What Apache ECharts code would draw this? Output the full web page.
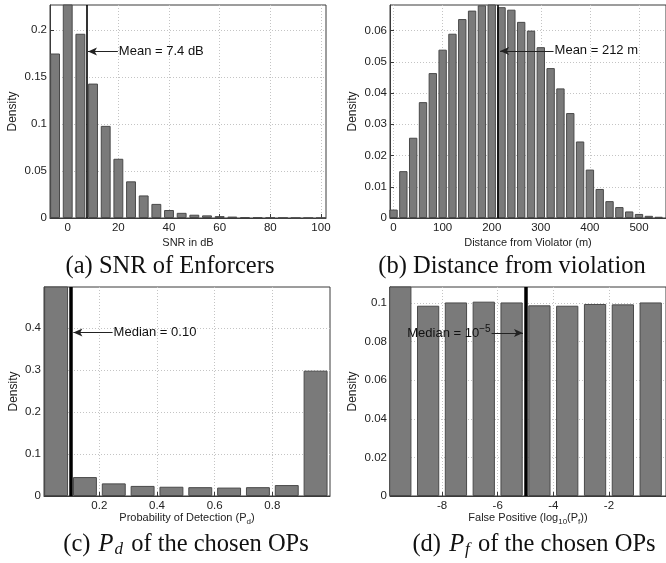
<!DOCTYPE html>
<html>
<head>
<meta charset="utf-8">
<script src="https://cdn.jsdelivr.net/npm/echarts@6/dist/echarts.min.js"></script>
<style>
  html, body { margin: 0; padding: 0; background: #fff; }
  #chart { width: 666px; height: 563px; }
</style>
</head>
<body>
<div id="chart"></div>
<script>
// (a) SNR of enforcers
var snrCenters = [-5, 0, 5, 10, 15, 20, 25, 30, 35, 40, 45, 50, 55, 60, 65, 70, 75, 80, 85, 90, 95, 100];
var snrDensity = [0.175, 0.24, 0.196, 0.143, 0.098, 0.063, 0.039, 0.024, 0.015, 0.0085, 0.0055, 0.0035,
                  0.0028, 0.002, 0.0015, 0.001, 0.0007, 0.0005, 0.0003, 0.0002, 0.0001, 0.0001];
var snrTicks = [0, 20, 40, 60, 80, 100];
var snrYTicks = [0, 0.05, 0.1, 0.15, 0.2];
var snrMean = 7.4;

// (b) distance from violation
var distCenters = [0, 20, 40, 60, 80, 100, 120, 140, 160, 180, 200, 220, 240, 260, 280, 300, 320, 340,
                   360, 380, 400, 420, 440, 460, 480, 500, 520, 540];
var distDensity = [0.0027, 0.0150, 0.0257, 0.0371, 0.0464, 0.0539, 0.0590, 0.0637, 0.0664, 0.0681, 0.0690,
                   0.0675, 0.0667, 0.0628, 0.0600, 0.0547, 0.0480, 0.0415, 0.0336, 0.0245, 0.0155, 0.0093,
                   0.0054, 0.0035, 0.0021, 0.0013, 0.0007, 0.0004];
var distTicks = [0, 100, 200, 300, 400, 500];
var distYTicks = [0, 0.01, 0.02, 0.03, 0.04, 0.05, 0.06];
var distMean = 212;

// (c) Pd of the chosen OPs
var pdCenters = [0.05, 0.15, 0.25, 0.35, 0.45, 0.55, 0.65, 0.75, 0.85, 0.95];
var pdDensity = [0.52, 0.045, 0.03, 0.024, 0.022, 0.021, 0.02, 0.021, 0.026, 0.298];
var pdTicks = [0.2, 0.4, 0.6, 0.8];
var pdYTicks = [0, 0.1, 0.2, 0.3, 0.4];
var pdMedian = 0.10;

// (d) Pf of the chosen OPs
var pfCenters = [-9.5, -8.5, -7.5, -6.5, -5.5, -4.5, -3.5, -2.5, -1.5, -0.5];
var pfDensity = [0.115, 0.0986, 0.1003, 0.1007, 0.1003, 0.0988, 0.0986, 0.0995, 0.0993, 0.1003];
var pfTicks = [-8, -6, -4, -2];
var pfYTicks = [0, 0.02, 0.04, 0.06, 0.08, 0.1];
var pfMedian = -5;

function pairs(xs, ys) {
    return xs.map(function (x, i) { return [x, ys[i]]; });
}

var frame = '#3a3a3a';
var sans = 'Liberation Sans, Arial, sans-serif';

function xAx(idx, min, max, ticks, name, gap) {
    return {
        type: 'value', gridIndex: idx, min: min, max: max,
        name: name, nameLocation: 'middle', nameGap: gap,
        nameTextStyle: {
            fontFamily: sans, fontSize: 11, color: '#222',
            rich: {
                n: {fontFamily: sans, fontSize: 11, color: '#222'},
                s: {fontFamily: sans, fontSize: 8, color: '#222', verticalAlign: 'bottom', padding: [6, 0, 0, 0]}
            }
        },
        axisLine: {show: true, onZero: false, lineStyle: {color: frame, width: 1}},
        axisTick: {show: true, inside: true, length: 4, customValues: ticks, lineStyle: {color: frame}},
        axisLabel: {customValues: ticks, fontFamily: sans, fontSize: 11.5, color: '#222', margin: 4},
        splitLine: {show: true, lineStyle: {color: '#c4c4c4', type: [1, 2], width: 1}}
    };
}

function yAx(idx, max, ticks, gap) {
    return {
        type: 'value', gridIndex: idx, min: 0, max: max,
        name: 'Density', nameLocation: 'middle', nameGap: gap, nameRotate: 90,
        nameTextStyle: {fontFamily: sans, fontSize: 12, color: '#222'},
        axisLine: {show: true, onZero: false, lineStyle: {color: frame, width: 1}},
        axisTick: {show: true, inside: true, length: 4, customValues: ticks, lineStyle: {color: frame}},
        axisLabel: {customValues: ticks, fontFamily: sans, fontSize: 11.5, color: '#222', margin: 3},
        splitLine: {show: true, lineStyle: {color: '#c4c4c4', type: [1, 2], width: 1}}
    };
}

var barStyle = {color: '#7a7a7a', borderColor: '#4a4a4a', borderWidth: 1};
var labelBase = {fontFamily: sans, fontSize: 13, color: '#111'};

function barSeries(idx, xs, ys, width, marks) {
    return {
        type: 'bar', xAxisIndex: idx, yAxisIndex: idx,
        data: pairs(xs, ys), barWidth: width, itemStyle: barStyle,
        silent: true, animation: false,
        markLine: {
            silent: true, animation: false, symbol: 'none',
            data: marks
        }
    };
}

function vline(x, w) {
    return {xAxis: x, lineStyle: {color: '#000', width: w, type: 'solid'}, label: {show: false}, symbol: 'none'};
}

function arrow(from, to, labelPos, text) {
    return [
        {coord: from, symbol: 'none', lineStyle: {color: '#222', width: 1, type: 'solid'},
         label: {show: true, position: labelPos, formatter: text, distance: 1,
                 fontFamily: sans, fontSize: 13, color: '#111',
                 rich: {
                     n: labelBase,
                     sup: {fontFamily: sans, fontSize: 10, color: '#111', verticalAlign: 'top', padding: [0, 0, 8, 0]}
                 }}},
        {coord: to, symbol: 'arrow', symbolSize: [6, 9]}
    ];
}

var serif = '"Liberation Serif", "Times New Roman", serif';
function capRich() {
    return {
        n: {fontFamily: 'Liberation Serif', fontSize: 24.5, fill: '#111'},
        i: {fontFamily: 'Liberation Serif', fontSize: 24.5, fontStyle: 'italic', fill: '#111', padding: [0, 0, 0, 2]},
        s: {fontFamily: 'Liberation Serif', fontSize: 17, fontStyle: 'italic', fill: '#111', padding: [10, 2, 0, 1]}
    };
}

var chart = echarts.init(document.getElementById('chart'), null, {renderer: 'canvas'});

var option = {
    animation: false,
    grid: [
        {left: 50, top: 5, width: 276, height: 213, show: true, borderColor: frame, borderWidth: 1},
        {left: 390, top: 5, width: 282, height: 213, show: true, borderColor: frame, borderWidth: 1},
        {left: 44, top: 287, width: 286, height: 209, show: true, borderColor: frame, borderWidth: 1},
        {left: 390, top: 287, width: 282, height: 209, show: true, borderColor: frame, borderWidth: 1}
    ],
    xAxis: [
        xAx(0, -7, 102, snrTicks, 'SNR in dB', 19),
        xAx(1, -7.2, 555, distTicks, 'Distance from Violator (m)', 19),
        xAx(2, 0.008, 1.0, pdTicks, '{n|Probability of Detection (P}{s|d}{n|)}', 15),
        xAx(3, -9.87, 0.05, pfTicks, '{n|False Positive (log}{s|10}{n|(P}{s|f}{n|))}', 15)
    ],
    yAxis: [
        yAx(0, 0.2266, snrYTicks, 31),
        yAx(1, 0.0682, distYTicks, 31),
        yAx(2, 0.497, pdYTicks, 24),
        yAx(3, 0.1083, pfYTicks, 31)
    ],
    series: [
        barSeries(0, snrCenters, snrDensity, '78%', [
            vline(snrMean, 1.6),
            arrow([19.8, 0.177], [8.0, 0.177], 'start', 'Mean = 7.4 dB')
        ]),
        barSeries(1, distCenters, distDensity, '85%', [
            vline(distMean, 1.6),
            arrow([326, 0.0535], [217, 0.0535], 'start', 'Mean = 212 m')
        ]),
        barSeries(2, pdCenters, pdDensity, '83%', [
            vline(pdMedian, 3.5),
            arrow([0.246, 0.389], [0.11, 0.389], 'start', 'Median = 0.10')
        ]),
        barSeries(3, pfCenters, pfDensity, '80%', [
            vline(pfMedian, 3.5),
            arrow([-6.22, 0.0845], [-5.09, 0.0845], 'start', '{n|Median = 10}{sup|\u22125}')
        ])
    ],
    graphic: [
        {type: 'text', x: 170, y: 267, style: {text: '(a) SNR of Enforcers', font: '24.5px ' + serif,
            fill: '#111', textAlign: 'center', textVerticalAlign: 'middle'}},
        {type: 'text', x: 512, y: 267, style: {text: '(b) Distance from violation', font: '24.5px ' + serif,
            fill: '#111', textAlign: 'center', textVerticalAlign: 'middle'}},
        {type: 'text', x: 186, y: 545, style: {
            text: '{n|(c) }{i|P}{s|d}{n| of the chosen OPs}', rich: capRich(),
            textAlign: 'center', textVerticalAlign: 'middle'}},
        {type: 'text', x: 534, y: 545, style: {
            text: '{n|(d) }{i|P}{s|f}{n| of the chosen OPs}', rich: capRich(),
            textAlign: 'center', textVerticalAlign: 'middle'}}
    ]
};

chart.setOption(option);
</script>
</body>
</html>
